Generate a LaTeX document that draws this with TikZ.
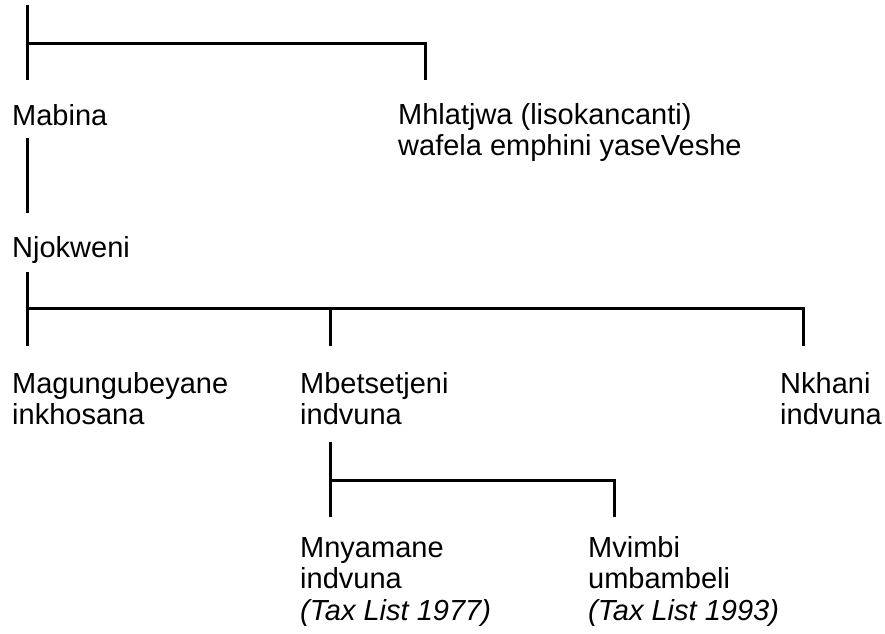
\documentclass[tikz,border=0pt]{standalone}
\usepackage{fontspec}
\setmainfont{Liberation Sans}
\begin{document}
\begin{tikzpicture}[x=1pt,y=-1pt,
  lbl/.style={anchor=base west,inner sep=0pt,font=\fontsize{29}{31.5}\selectfont},
  link/.style={line width=3pt,line join=miter}]
\useasboundingbox (0,0) rectangle (885,633);
% labels
\node[lbl] (mabina) at (12,125) {Mabina};
\node[lbl] (mhlatjwa) at (398,124) {\begin{tabular}[t]{@{}l@{}}Mhlatjwa (lisokancanti)\\wafela emphini yaseVeshe\end{tabular}};
\node[lbl] (njokweni) at (12,257) {Njokweni};
\node[lbl] (magungu) at (12,393) {\begin{tabular}[t]{@{}l@{}}Magungubeyane\\inkhosana\end{tabular}};
\node[lbl] (mbetse) at (300,393) {\begin{tabular}[t]{@{}l@{}}Mbetsetjeni\\indvuna\end{tabular}};
\node[lbl] (nkhani) at (780,393) {\begin{tabular}[t]{@{}l@{}}Nkhani\\indvuna\end{tabular}};
\node[lbl] (mnyamane) at (300,557) {\begin{tabular}[t]{@{}l@{}}Mnyamane\\indvuna\\\textit{(Tax List 1977)}\end{tabular}};
\node[lbl] (mvimbi) at (588,557) {\begin{tabular}[t]{@{}l@{}}Mvimbi\\umbambeli\\\textit{(Tax List 1993)}\end{tabular}};
% connector points
\coordinate (t0) at (27,5);
\coordinate (t1) at (27,80);
\coordinate (tj) at (27,43);
\coordinate (t2) at (425,80);
\coordinate (m0) at (27,138);
\coordinate (m1) at (27,213);
\coordinate (n0) at (27,272);
\coordinate (n1) at (27,346);
\coordinate (nj) at (27,308);
\coordinate (nb) at (330,308);
\coordinate (nb1) at (330,346);
\coordinate (nc1) at (803,346);
\coordinate (b0) at (330,442);
\coordinate (b1) at (330,517);
\coordinate (bj) at (330,480);
\coordinate (b2) at (614,517);
% connectors
\draw[link] (t0) -- (t1);
\draw[link] (tj) -| (t2);
\draw[link] (m0) -- (m1);
\draw[link] (n0) -- (n1);
\draw[link] (nj) -| (nc1);
\draw[link] (nb) -- (nb1);
\draw[link] (b0) -- (b1);
\draw[link] (bj) -| (b2);
\end{tikzpicture}
\end{document}
